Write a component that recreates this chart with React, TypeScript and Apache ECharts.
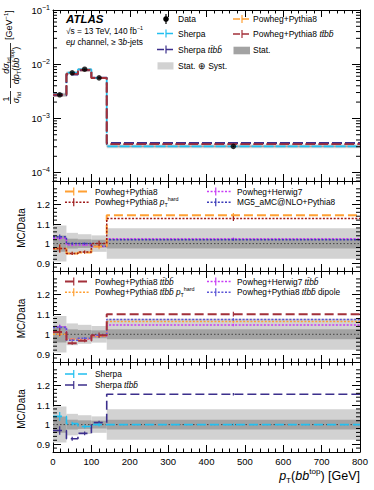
import React, { useEffect, useRef } from 'react';
import * as echarts from 'echarts';

// ---------------- data ----------------
const binEdges = [0, 35, 65, 100, 140, 800];
const binCenters = [17.5, 50, 82.5, 120, 470];
const ratioTickValues = [0.9, 1, 1.1, 1.2];

// main panel: normalised differential cross-section [GeV^-1]
const dataXsec = [2.73e-3, 6.95e-3, 8.1e-3, 5.6e-3, 3.05e-4];
const dataStatFrac = [0.042, 0.025, 0.022, 0.02, 0.025];
const dataTotFrac = [0.092, 0.055, 0.048, 0.042, 0.078];
const xsecSherpa = [2.84e-3, 6.99e-3, 8.02e-3, 5.6e-3, 3.05e-4];
const xsecSherpaTtbb = [2.65e-3, 6.45e-3, 7.74e-3, 5.66e-3, 3.52e-4];
const xsecPowhegPy8 = [2.66e-3, 6.6e-3, 7.74e-3, 5.52e-3, 3.49e-4];
const xsecPowhegPy8Ttbb = [2.76e-3, 6.64e-3, 7.84e-3, 5.57e-3, 3.36e-4];

// ratio panel 1
const ratioPowhegPy8 = [0.975, 0.95, 0.955, 0.985, 1.145];
const ratioPowhegPy8Hard = [0.975, 0.95, 0.957, 1.0, 1.128];
const ratioPowhegHw7 = [1.028, 0.993, 0.993, 0.985, 1.025];
const ratioMG5 = [1.035, 1.0, 1.0, 0.987, 1.02];
// ratio panel 2
const ratioPowhegPy8Ttbb = [1.012, 0.955, 0.968, 0.995, 1.102];
const ratioPowhegHw7Ttbb = [1.038, 0.975, 0.975, 0.99, 1.047];
const ratioPowhegPy8TtbbHard = [1.0, 0.975, 0.978, 0.99, 1.065];
const ratioPowhegPy8TtbbDipole = [1.035, 0.97, 0.98, 0.995, 1.075];
// ratio panel 3
const ratioSherpa = [1.042, 1.005, 0.99, 1.0, 1.0];
const ratioSherpaTtbb = [0.97, 0.928, 0.955, 1.01, 1.155];

// MC statistical uncertainties (ratio units)
const mcErrPowheg = [0.02, 0.008, 0.008, 0.014, 0.012];
const mcErrSherpa = [0.022, 0.01, 0.01, 0.01, 0.006];
const mcErrAlt = [0.012, 0.006, 0.006, 0.008, 0.006];

// ---------------- style ----------------
const FONT = '"Liberation Sans", Arial, Helvetica, sans-serif';
const GRID_L = 53;
const GRID_W = 307;
const panelTops = [10, 181, 271, 362];
const panelHeights = [171, 90, 91, 90];

const C_SHERPA = '#22bff0';
const C_SHERPA_TTBB = '#3c2f8c';
const C_PP8 = '#ffa033';
const C_PP8_TTBB = '#a3303a';
const C_PP8_HARD = '#9e1a1a';
const C_HW7 = '#c83cf5';
const C_MG5 = '#3a3ab8';
const C_DIPOLE = '#5b55d6';
const C_STAT = '#a3a3a3';
const C_SYST = '#d2d2d2';

const LONG = [9, 4];
const DOT = [2, 1.6];

const stepData = (vals: number[]) =>
  binEdges.map((e, i) => [e, vals[Math.min(i, vals.length - 1)]]);

function stepSeries(p: number, vals: number[], color: string, dash: any, width: number, z = 5) {
  return {
    type: 'line', xAxisIndex: 2 * p, yAxisIndex: 2 * p, data: stepData(vals), step: 'end',
    symbol: 'none', silent: true, z, lineStyle: { color, width, type: dash },
  };
}

function errSeries(p: number, lo: number[], hi: number[], color: string, width = 1.2, z = 6) {
  return {
    type: 'custom', xAxisIndex: 2 * p, yAxisIndex: 2 * p, silent: true, z,
    data: binCenters.map((c, i) => [c, lo[i], hi[i]]),
    encode: { x: 0, y: [1, 2] },
    renderItem: (_params: any, api: any) => {
      const a = api.coord([api.value(0), api.value(1)]);
      const b = api.coord([api.value(0), api.value(2)]);
      return { type: 'line', shape: { x1: a[0], y1: a[1], x2: b[0], y2: b[1] }, style: { stroke: color, lineWidth: width } };
    },
  };
}

function bandSeries(p: number, lo: number[], hi: number[], color: string, z: number) {
  return {
    type: 'custom', xAxisIndex: 2 * p, yAxisIndex: 2 * p, silent: true, z,
    data: lo.map((l, i) => [binEdges[i], binEdges[i + 1], l, hi[i]]),
    encode: { x: [0, 1], y: [2, 3] },
    renderItem: (_params: any, api: any) => {
      const a = api.coord([api.value(0), api.value(3)]);
      const b = api.coord([api.value(1), api.value(2)]);
      return { type: 'rect', shape: { x: a[0], y: a[1], width: b[0] - a[0], height: b[1] - a[1] }, style: { fill: color } };
    },
  };
}

function minorTickSeries(p: number, vals: number[]) {
  return {
    type: 'custom', xAxisIndex: 2 * p, yAxisIndex: 2 * p, silent: true, z: 20,
    data: vals.map((v) => [0, v]),
    encode: { x: 0, y: 1 },
    renderItem: (_params: any, api: any) => {
      const v = api.value(1);
      const l = api.coord([0, v]);
      const r = api.coord([800, v]);
      return {
        type: 'group',
        children: [
          { type: 'line', shape: { x1: l[0], y1: l[1], x2: l[0] + 4, y2: l[1] }, style: { stroke: '#000', lineWidth: 1 } },
          { type: 'line', shape: { x1: r[0] - 4, y1: r[1], x2: r[0], y2: r[1] }, style: { stroke: '#000', lineWidth: 1 } },
        ],
      };
    },
  };
}

function oneLine(p: number) {
  return {
    type: 'line', xAxisIndex: 2 * p, yAxisIndex: 2 * p, data: [[0, 1], [800, 1]], symbol: 'none', silent: true, z: 4,
    lineStyle: { color: '#444', width: 1, type: [1.5, 2] },
  };
}

// ---------------- graphic helpers ----------------
const richG = (size: number) => ({
  i: { fontStyle: 'italic', fontSize: size, fontFamily: FONT, fill: '#000' },
  sup: { fontSize: size * 0.65, fontFamily: FONT, verticalAlign: 'top', fill: '#000' },
  sub: { fontSize: size * 0.65, fontFamily: FONT, verticalAlign: 'bottom', fill: '#000' },
});

function txt(x: number, y: number, text: string, size = 8.5, align = 'left', extra: any = {}) {
  return {
    type: 'text', x, y, z: 100,
    style: {
      text, fontSize: size, fontFamily: FONT, fill: '#000', align, verticalAlign: 'middle',
      textAlign: align, textVerticalAlign: 'middle', lineHeight: size * 1.35, rich: richG(size), ...extra,
    },
  };
}

function mcIcon(x: number, y: number, w: number, color: string, dash: any, lw: number, barFrac = 0.35) {
  return [
    { type: 'line', z: 100, shape: { x1: x, y1: y, x2: x + w, y2: y }, style: { stroke: color, lineWidth: lw, lineDash: dash } },
    { type: 'line', z: 100, shape: { x1: x + w * barFrac, y1: y - 4, x2: x + w * barFrac, y2: y + 4 }, style: { stroke: color, lineWidth: 1.2 } },
  ];
}

function boxIcon(x: number, y: number, w: number, h: number, color: string) {
  return { type: 'rect', z: 100, shape: { x, y, width: w, height: h }, style: { fill: color } };
}

const TTBB = '{i|tt\u0304bb\u0304}';

function buildGraphics() {
  const els: any[] = [];
  // ATLAS label
  els.push(txt(66, 18.5, 'ATLAS', 11.5, 'left', { fontWeight: 'bold', fontStyle: 'italic' }));
  els.push(txt(66, 31, '\u221As = 13 TeV, 140 fb{sup|\u22121}', 8.3));
  els.push(txt(66, 41.5, '{i|e\u03BC} channel, \u2265 3{i|b}-jets', 8.3));

  // main legend col 1
  els.push({ type: 'line', z: 100, shape: { x1: 166, y1: 14, x2: 166, y2: 24 }, style: { stroke: '#000', lineWidth: 1.2 } });
  els.push({ type: 'circle', z: 101, shape: { cx: 166, cy: 19, r: 2.8 }, style: { fill: '#000' } });
  els.push(txt(178, 19, 'Data'));
  els.push(...mcIcon(157, 33.5, 18, C_SHERPA, [7, 2], 1.6, 0.5));
  els.push(txt(178, 33.5, 'Sherpa'));
  els.push(...mcIcon(157, 49.5, 18, C_SHERPA_TTBB, [7, 2], 1.6, 0.5));
  els.push(txt(178, 49.5, 'Sherpa ' + TTBB));
  els.push(boxIcon(157.5, 62.3, 16, 7.2, C_SYST));
  els.push(txt(178, 66, 'Stat. \u2295 Syst.'));
  // main legend col 2
  els.push(...mcIcon(233, 19, 18, C_PP8, [7, 2], 1.6, 0.5));
  els.push(txt(253, 19, 'Powheg+Pythia8'));
  els.push(...mcIcon(233, 34, 18, C_PP8_TTBB, [7, 2], 1.6, 0.5));
  els.push(txt(253, 34, 'Powheg+Pythia8 ' + TTBB));
  els.push(boxIcon(233.5, 46.7, 16.5, 7.6, C_STAT));
  els.push(txt(253, 50, 'Stat.'));

  // ratio panel legends
  const rows = [
    [
      [C_PP8, LONG, 2, 'Powheg+Pythia8'],
      [C_HW7, DOT, 1.6, 'Powheg+Herwig7'],
      [C_PP8_HARD, DOT, 1.5, 'Powheg+Pythia8 {i|p}{sub|T}{sup|hard}'],
      [C_MG5, DOT, 1.5, 'MG5_aMC@NLO+Pythia8'],
    ],
    [
      [C_PP8_TTBB, LONG, 2, 'Powheg+Pythia8 ' + TTBB],
      [C_HW7, DOT, 1.6, 'Powheg+Herwig7 ' + TTBB],
      [C_PP8, DOT, 1.5, 'Powheg+Pythia8 ' + TTBB + ' {i|p}{sub|T}{sup|hard}'],
      [C_DIPOLE, DOT, 1.5, 'Powheg+Pythia8 ' + TTBB + ' dipole'],
    ],
  ];
  rows.forEach((items, k) => {
    const top = panelTops[k + 1];
    items.forEach((it: any, j) => {
      const col = j % 2;
      const row = Math.floor(j / 2);
      const y = top + 10.5 + row * 10.8;
      const x0 = col === 0 ? 65 : 207;
      els.push(...mcIcon(x0, y, 25, it[0], it[1], it[2], 0.35));
      els.push(txt(x0 + 30, y, it[3], 8.3));
    });
  });
  const t3 = panelTops[3];
  els.push(...mcIcon(65, t3 + 12, 25, C_SHERPA, LONG, 1.6, 0.35));
  els.push(txt(95, t3 + 12, 'Sherpa', 8.3));
  els.push(...mcIcon(65, t3 + 23, 25, C_SHERPA_TTBB, LONG, 1.6, 0.35));
  els.push(txt(95, t3 + 23, 'Sherpa ' + TTBB, 8.3));

  // y-axis titles of ratio panels
  for (let p = 1; p <= 3; p++) {
    els.push({
      type: 'text', x: 21, y: panelTops[p] + panelHeights[p] / 2 + 2, rotation: Math.PI / 2, z: 100,
      style: { text: 'MC/Data', fontSize: 10, fontFamily: FONT, fill: '#000', align: 'center', verticalAlign: 'middle', textAlign: 'center', textVerticalAlign: 'middle' },
    });
  }

  // main y title
  const ts = 9;
  const tOpt = (extra: any = {}) => ({ ...extra });
  els.push({
    type: 'group', x: 10.5, y: 104, rotation: Math.PI / 2, z: 100,
    children: [
      txt(5, -4.8, '1', ts, 'center', tOpt()),
      { type: 'line', z: 100, shape: { x1: 0, y1: 0, x2: 13, y2: 0 }, style: { stroke: '#000', lineWidth: 0.8 } },
      txt(6.5, 5, '{i|\u03C3}{sub|fid}', ts, 'center'),
      txt(38.5, -4.8, '{i|d\u03C3}{sub|fid}', ts, 'center'),
      { type: 'line', z: 100, shape: { x1: 16, y1: 0, x2: 61, y2: 0 }, style: { stroke: '#000', lineWidth: 0.8 } },
      txt(38.5, 5, '{i|dp}{sub|T}({i|bb}{sup|top})', ts, 'center'),
      txt(64, -1.5, '[GeV{sup|\u22121}]', ts, 'left'),
    ],
  });

  // x-axis title
  els.push(txt(360, 476, '{i|p}{sub|T}({i|bb}{sup|top}) [GeV]', 12.5, 'right'));
  return els;
}

// ---------------- option ----------------
function buildOption() {
  const grids = panelTops.map((t, i) => ({ left: GRID_L, top: t, width: GRID_W, height: panelHeights[i], show: false }));

  const axisLine = { show: true, onZero: false, lineStyle: { color: '#000', width: 1 } };
  const xAxes: any[] = [];
  for (let p = 0; p < 4; p++) {
    for (const pos of ['bottom', 'top']) {
      const lab = p === 3 && pos === 'bottom';
      xAxes.push({
        type: 'value', gridIndex: p, position: pos, min: 0, max: 800, interval: 100,
        axisLine,
        axisTick: { show: true, inside: true, length: 7, lineStyle: { color: '#000', width: 1 } },
        minorTick: { show: true, splitNumber: 5, length: 3.5, lineStyle: { color: '#000', width: 1 } },
        splitLine: { show: false }, minorSplitLine: { show: false },
        axisLabel: lab
          ? { show: true, margin: 4, fontSize: 9.5, fontFamily: FONT, color: '#000', showMinLabel: true, showMaxLabel: true, hideOverlap: false }
          : { show: false },
      });
    }
  }

  const yAxes: any[] = [];
  for (const pos of ['left', 'right']) {
    yAxes.push({
      type: 'log', logBase: 10, gridIndex: 0, position: pos, min: 7e-5, max: 0.1,
      axisLine,
      axisTick: { show: true, inside: true, length: 8, lineStyle: { color: '#000', width: 1 } },
      minorTick: { show: false }, splitLine: { show: false }, minorSplitLine: { show: false },
      axisLabel: pos === 'left'
        ? {
          show: true, margin: 3, fontSize: 9.5, fontFamily: FONT, color: '#000', lineHeight: 13,
          formatter: (v: number) => {
            const n = Math.round(Math.log10(v));
            if (Math.abs(v / Math.pow(10, n) - 1) > 0.01) return '';
            return '10{sup|' + (n < 0 ? '\u2212' + -n : String(n)) + '}';
          },
          rich: { sup: { fontSize: 7, fontFamily: FONT, color: '#000', verticalAlign: 'top', lineHeight: 8 } },
        }
        : { show: false },
    });
  }
  for (let p = 1; p < 4; p++) {
    for (const pos of ['left', 'right']) {
      yAxes.push({
        type: 'value', gridIndex: p, position: pos, min: 0.86, max: 1.32,
        axisLine,
        axisTick: { show: true, inside: true, length: 8, customValues: ratioTickValues, lineStyle: { color: '#000', width: 1 } },
        minorTick: { show: false }, splitLine: { show: false }, minorSplitLine: { show: false },
        axisLabel: pos === 'left'
          ? { show: true, margin: 3, fontSize: 9.5, fontFamily: FONT, color: '#000', customValues: ratioTickValues, formatter: (v: number) => String(Math.round(v * 10) / 10) }
          : { show: false },
      });
    }
  }

  const logMinor: number[] = [];
  for (let n = -5; n <= -2; n++) for (let k = 2; k <= 9; k++) {
    const v = k * Math.pow(10, n);
    if (v > 7e-5 && v < 0.1) logMinor.push(v);
  }
  const ratioMinor: number[] = [];
  for (let k = 44; k <= 65; k++) if (k % 5 !== 0) ratioMinor.push(k * 0.02);

  const series: any[] = [];
  // ---- main panel ----
  series.push(bandSeries(0, dataXsec.map((v, i) => v * (1 - dataTotFrac[i])), dataXsec.map((v, i) => v * (1 + dataTotFrac[i])), C_SYST, 1));
  series.push(bandSeries(0, dataXsec.map((v, i) => v * (1 - dataStatFrac[i])), dataXsec.map((v, i) => v * (1 + dataStatFrac[i])), C_STAT, 2));
  series.push(stepSeries(0, xsecSherpa, C_SHERPA, [10, 2], 1.8, 5));
  series.push(stepSeries(0, xsecPowhegPy8, C_PP8, [10, 3], 1.8, 5));
  series.push(stepSeries(0, xsecSherpaTtbb, C_SHERPA_TTBB, [10, 3], 1.8, 6));
  series.push(stepSeries(0, xsecPowhegPy8Ttbb, C_PP8_TTBB, [10, 3], 1.8, 6));
  series.push(errSeries(0, dataXsec.map((v, i) => v * (1 - dataStatFrac[i])), dataXsec.map((v, i) => v * (1 + dataStatFrac[i])), '#000', 1.2, 9));
  series.push({
    type: 'scatter', xAxisIndex: 0, yAxisIndex: 0, silent: true, z: 10, symbol: 'circle', symbolSize: 5.5,
    itemStyle: { color: '#000' }, data: binCenters.map((c, i) => [c, dataXsec[i]]),
  });
  series.push(minorTickSeries(0, logMinor));

  // ---- ratio panels ----
  for (let p = 1; p < 4; p++) {
    series.push(bandSeries(p, dataTotFrac.map((f) => 1 - f), dataTotFrac.map((f) => 1 + f), C_SYST, 1));
    series.push(bandSeries(p, dataStatFrac.map((f) => 1 - f), dataStatFrac.map((f) => 1 + f), C_STAT, 2));
    series.push(oneLine(p));
    series.push(minorTickSeries(p, ratioMinor));
  }
  const lohi = (v: number[], e: number[]) => [v.map((x, i) => x - e[i]), v.map((x, i) => x + e[i])];
  const addMC = (p: number, vals: number[], errs: number[], color: string, dash: any, w: number, z: number) => {
    series.push(stepSeries(p, vals, color, dash, w, z));
    const [lo, hi] = lohi(vals, errs);
    series.push(errSeries(p, lo, hi, color, 1.2, z));
  };
  addMC(1, ratioPowhegHw7, mcErrAlt, C_HW7, DOT, 1.6, 5);
  addMC(1, ratioMG5, mcErrAlt, C_MG5, DOT, 1.5, 6);
  addMC(1, ratioPowhegPy8, mcErrPowheg, C_PP8, LONG, 2, 7);
  addMC(1, ratioPowhegPy8Hard, mcErrPowheg, C_PP8_HARD, DOT, 1.5, 8);

  addMC(2, ratioPowhegHw7Ttbb, mcErrAlt, C_HW7, DOT, 1.6, 5);
  addMC(2, ratioPowhegPy8TtbbHard, mcErrAlt, C_PP8, DOT, 1.5, 6);
  addMC(2, ratioPowhegPy8TtbbDipole, mcErrAlt, C_DIPOLE, DOT, 1.5, 7);
  addMC(2, ratioPowhegPy8Ttbb, mcErrPowheg, C_PP8_TTBB, LONG, 2, 8);

  addMC(3, ratioSherpaTtbb, mcErrSherpa, C_SHERPA_TTBB, LONG, 1.6, 6);
  addMC(3, ratioSherpa, mcErrSherpa, C_SHERPA, LONG, 1.6, 7);

  return {
    animation: false,
    backgroundColor: '#fff',
    grid: grids,
    xAxis: xAxes,
    yAxis: yAxes,
    series,
    graphic: { elements: buildGraphics() },
  };
}

export default function App() {
  const ref = useRef<HTMLDivElement>(null);
  useEffect(() => {
    if (!ref.current) return;
    const chart = echarts.init(ref.current, undefined, { renderer: 'svg' });
    chart.setOption(buildOption() as any);
    return () => chart.dispose();
  }, []);
  return <div ref={ref} style={{ position: 'fixed', left: 0, top: 0, width: 374, height: 490 }} />;
}
